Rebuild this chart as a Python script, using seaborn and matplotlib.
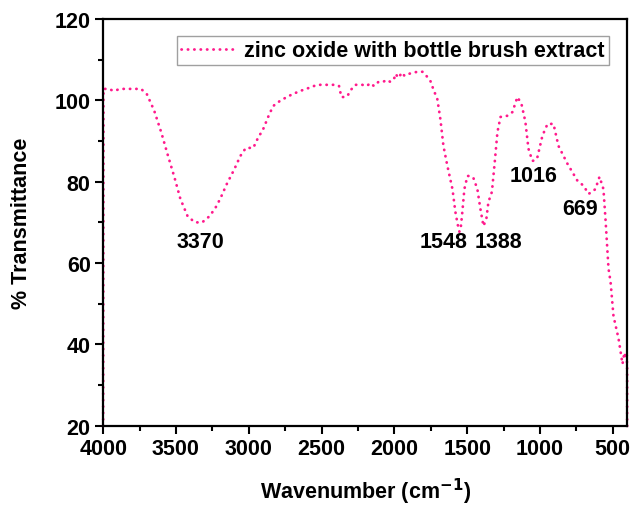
import matplotlib
matplotlib.use("Agg")
import matplotlib.pyplot as plt
import seaborn as sns
import pandas as pd
from matplotlib.ticker import MultipleLocator

sns.set_theme(style="ticks")
plt.rcParams['font.family'] = ['Liberation Sans', 'DejaVu Sans']
plt.rcParams['font.weight'] = 'bold'
plt.rcParams['text.color'] = 'black'
plt.rcParams['axes.labelcolor'] = 'black'
plt.rcParams['xtick.color'] = 'black'
plt.rcParams['ytick.color'] = 'black'

series_name = "zinc oxide with bottle brush extract"
wavenumber = [4000, 3998, 3960, 3930, 3880, 3800, 3740, 3700, 3650, 3600, 3560, 3510,
              3470, 3420, 3370, 3320, 3270, 3230, 3196, 3150, 3100, 3058, 3020, 2990,
              2969, 2940, 2900, 2860, 2832, 2780, 2700, 2646, 2590, 2530, 2460, 2400,
              2380, 2364, 2340, 2323, 2300, 2268, 2220, 2190, 2165, 2140, 2110, 2080,
              2050, 2027, 2000, 1993, 1970, 1950, 1930, 1900, 1870, 1840, 1807, 1780,
              1753, 1730, 1705, 1684, 1663, 1636, 1601, 1581, 1565, 1553, 1543, 1533,
              1519, 1498, 1477, 1457, 1430, 1409, 1388, 1368, 1354, 1330, 1310, 1292,
              1271, 1223, 1189, 1155, 1127, 1100, 1079, 1052, 1030, 1017, 983, 948,
              907, 873, 811, 742, 700, 667, 640, 619, 591, 564, 550, 529, 515, 495,
              460, 433, 420, 410, 404, 401, 401]
transmittance = [20, 102.8, 102.8, 102.3, 102.8, 102.8, 102.8, 101.5, 97.5, 92, 87, 81,
                 75.8, 71.5, 70, 70, 71.5, 73.5, 75.8, 79.5, 83, 86.3, 88.3, 88.3,
                 88.3, 90.5, 93, 96.5, 98.6, 100, 101.5, 102.3, 103, 103.8, 103.8, 103.8,
                 103.5, 100.8, 100.8, 101, 102.5, 103.8, 103.8, 103.5, 104.2, 103.5, 104.5, 104.5,
                 105, 104.5, 105.5, 106.5, 105.5, 106.8, 106, 106.5, 106.8, 107, 107, 106,
                 104.8, 102.5, 100.3, 95.4, 88.8, 83.9, 78.2, 72.6, 69.5, 67.7, 69, 72.6,
                 78.2, 81.4, 81.4, 80.9, 78.2, 73.3, 69.1, 70.9, 75, 77.5, 85, 92.2,
                 95.9, 96.2, 97.1, 100.8, 99.1, 94.7, 88.1, 85.1, 85.3, 86.1, 91.3, 94.2,
                 94.2, 88.8, 84.4, 80.2, 79, 77, 77.5, 78.2, 81.2, 78.2, 70.9, 58.6, 55.4, 47,
                 41.4, 35.2, 38, 36.5, 38, 34, 20]

peak_labels = ["3370", "1548", "1388", "1016", "669"]
peak_label_x = [3333, 1663, 1285, 1045, 722]
peak_label_y = [65.4, 65.2, 65.2, 81.4, 73.3]

df = pd.DataFrame({"Wavenumber": wavenumber, "Transmittance": transmittance,
                   "series": series_name})

DOT = (0, (0.1, 2.2))
fig = plt.figure(figsize=(6.33, 5.10), dpi=100)
ax = fig.add_axes([0.163, 0.163, 0.828, 0.798])
color = "#ff1a8c"
sns.lineplot(data=df, x="Wavenumber", y="Transmittance", hue="series",
             palette=[color], sort=False, estimator=None, ax=ax,
             linewidth=2.0, dashes=False)
for line in ax.get_lines():
    line.set_linestyle(DOT)
    line.set_dash_capstyle('round')
    line.set_clip_on(False)

ax.set_xlim(4000, 400)
ax.set_ylim(20, 120)
ax.xaxis.set_major_locator(MultipleLocator(500))
ax.xaxis.set_minor_locator(MultipleLocator(250))
ax.yaxis.set_major_locator(MultipleLocator(20))
ax.yaxis.set_minor_locator(MultipleLocator(10))
ax.tick_params(which='major', direction='out', length=6, width=1.5, labelsize=15.5, pad=3)
ax.tick_params(which='minor', direction='out', length=3.5, width=1.5)
for lbl in ax.get_xticklabels() + ax.get_yticklabels():
    lbl.set_fontweight('bold')
for s in ax.spines.values():
    s.set_linewidth(1.6)
    s.set_color('black')

ax.set_xlabel("Wavenumber (cm$^{\\mathbf{-1}}$)", fontsize=15.5, fontweight='bold', labelpad=12)
ax.set_ylabel("% Transmittance", fontsize=15.5, fontweight='bold', labelpad=16)

for t, x, y in zip(peak_labels, peak_label_x, peak_label_y):
    ax.text(x, y, t, fontsize=15.5, fontweight='bold', ha='center', va='center')

leg = ax.legend(loc='upper right', fontsize=15.5, frameon=True, fancybox=False,
                handlelength=2.4, handletextpad=0.5, borderpad=0.2,
                bbox_to_anchor=(0.985, 0.985))
leg.get_frame().set_edgecolor('#888888')
leg.get_frame().set_linewidth(1.0)
for txt in leg.get_texts():
    txt.set_fontweight('bold')
for h in leg.get_lines():
    h.set_linestyle(DOT)
    h.set_dash_capstyle('round')
    h.set_linewidth(2.0)

fig.savefig("out.png", dpi=100)
